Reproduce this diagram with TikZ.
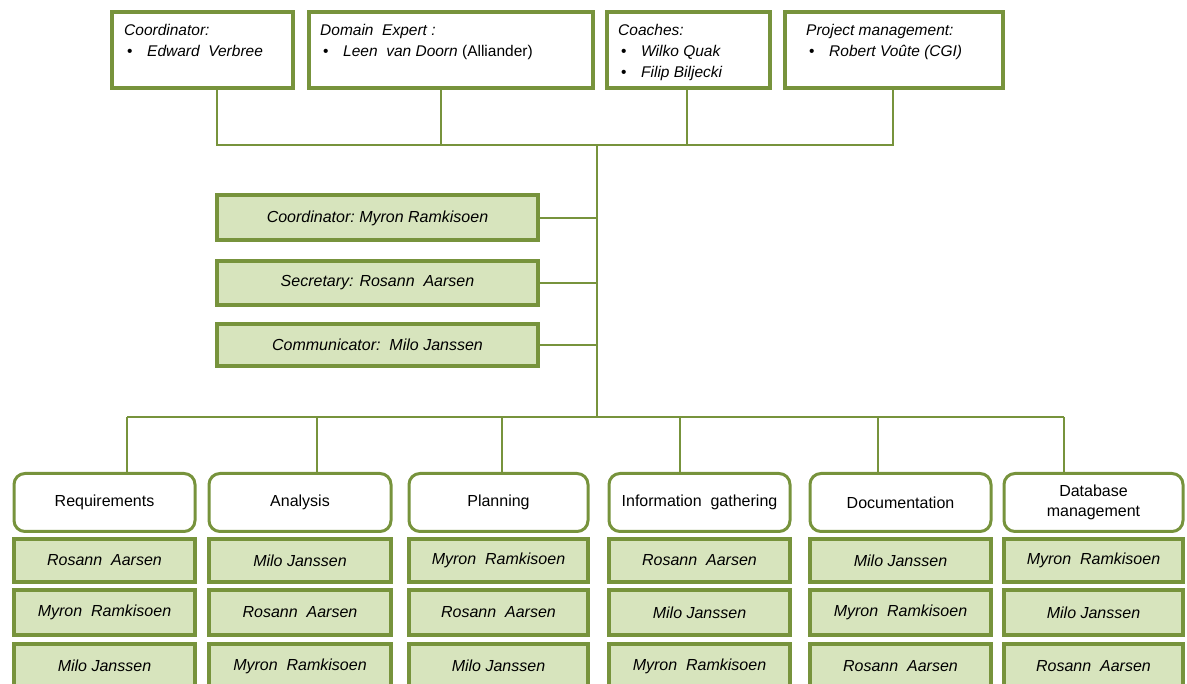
\documentclass[tikz,border=0pt]{standalone}
\usepackage{fontspec}
\setmainfont{Liberation Sans}
\definecolor{olivebd}{HTML}{77933C}
\definecolor{lightgr}{HTML}{D7E4BD}
\begin{document}
\begin{tikzpicture}[x=1pt,y=-1pt,
  topbox/.style={draw=olivebd, line width=4pt, fill=white, inner sep=0pt},
  toptext/.style={anchor=north west, inner sep=0pt, align=left, font=\fontsize{15.5}{21}\selectfont},
  midbox/.style={draw=olivebd, line width=4pt, fill=lightgr, inner sep=0pt, minimum width=321pt, font=\fontsize{16}{18}\selectfont\itshape},
  headbox/.style={draw=olivebd, line width=3pt, fill=white, rounded corners=11pt, inner sep=0pt, minimum height=58pt, align=center, font=\fontsize{16}{20}\selectfont},
  namebox/.style={draw=olivebd, line width=4pt, fill=lightgr, inner sep=0pt, font=\fontsize{16}{18}\selectfont\itshape},
  conn/.style={draw=olivebd, line width=1.6pt}
]
\useasboundingbox (0,0) rectangle (1187,684);
\newcommand{\bul}{\makebox[23pt][l]{\hspace{3pt}\textbullet}}

% top boxes
\node[topbox, minimum width=181pt, minimum height=76pt] (t1) at (202.5,50) {};
\node[topbox, minimum width=284pt, minimum height=76pt] (t2) at (451,50) {};
\node[topbox, minimum width=163pt, minimum height=76pt] (t3) at (688.5,50) {};
\node[topbox, minimum width=218pt, minimum height=76pt] (t4) at (894,50) {};

\node[toptext] (tt1) at (124,24) {\textit{Coordinator:}\\\bul\textit{Edward\ \ Verbree}};
\node[toptext] (tt2) at (320,24) {\textit{Domain\ \ Expert :}\\\bul\textit{Leen\ \ van Doorn} (Alliander)};
\node[toptext] (tt3) at (618,24) {\textit{Coaches:}\\\bul\textit{Wilko Quak}\\\bul\textit{Filip Biljecki}};
\node[toptext] (tt4) at (806,24) {\textit{Project management:}\\\bul\textit{Robert Vo\^ute (CGI)}};

% junctions
\coordinate (j1) at (217,145);
\coordinate (j2) at (441,145);
\coordinate (j3) at (687,145);
\coordinate (j4) at (893,145);
\coordinate (tr) at (597,145);
\coordinate (tb) at (597,417);

\draw[conn] (t1.south -| j1) -- (j1) -- (j4) -- (t4.south -| j4);
\draw[conn] (t2.south -| j2) -- (j2);
\draw[conn] (t3.south -| j3) -- (j3);
\draw[conn] (tr) -- (tb);

% middle boxes
\node[midbox, minimum height=45pt] (m1) at (377.5,218) {Coordinator:\ Myron\ Ramkisoen};
\node[midbox, minimum height=44pt] (m2) at (377.5,283) {Secretary: Rosann\ \ Aarsen};
\node[midbox, minimum height=42pt] (m3) at (377.5,345) {Communicator:\ \ Milo Janssen};
\draw[conn] (m1.east) -- (m1.east -| tr);
\draw[conn] (m2.east) -- (m2.east -| tr);
\draw[conn] (m3.east) -- (m3.east -| tr);

% bottom columns
\coordinate (b1) at (127,417);
\coordinate (b2) at (317,417);
\coordinate (b3) at (502,417);
\coordinate (b4) at (680,417);
\coordinate (b5) at (878,417);
\coordinate (b6) at (1064,417);
\draw[conn] (b1) -- (b6);

\foreach \i/\cx/\w/\head/\na/\nb/\nc in {
  1/104.5/181/{Requirements}/{Rosann\ \ Aarsen}/{Myron\ \ Ramkisoen}/{Milo Janssen},
  2/300/182/{Analysis}/{Milo Janssen}/{Rosann\ \ Aarsen}/{Myron\ \ Ramkisoen},
  3/498.5/179/{Planning}/{Myron\ \ Ramkisoen}/{Rosann\ \ Aarsen}/{Milo Janssen},
  4/699.5/181/{Information\ \ gathering}/{Rosann\ \ Aarsen}/{Milo Janssen}/{Myron\ \ Ramkisoen},
  5/900.5/181/{Documentation}/{Milo Janssen}/{Myron\ \ Ramkisoen}/{Rosann\ \ Aarsen},
  6/1093.5/179/{Database\\management}/{Myron\ \ Ramkisoen}/{Milo Janssen}/{Rosann\ \ Aarsen}} {
  \node[headbox, minimum width=\w pt] (h\i) at (\cx,502.5) {\head};
  \node[namebox, minimum width=\w pt, minimum height=43pt] (n\i a) at (\cx,560.5) {\na};
  \node[namebox, minimum width=\w pt, minimum height=45pt] (n\i b) at (\cx,612.5) {\nb};
  \node[namebox, minimum width=\w pt, minimum height=44pt] (n\i c) at (\cx,666) {\nc};
  \draw[conn] (b\i) -- (b\i |- h\i.north);
}
\end{tikzpicture}
\end{document}
